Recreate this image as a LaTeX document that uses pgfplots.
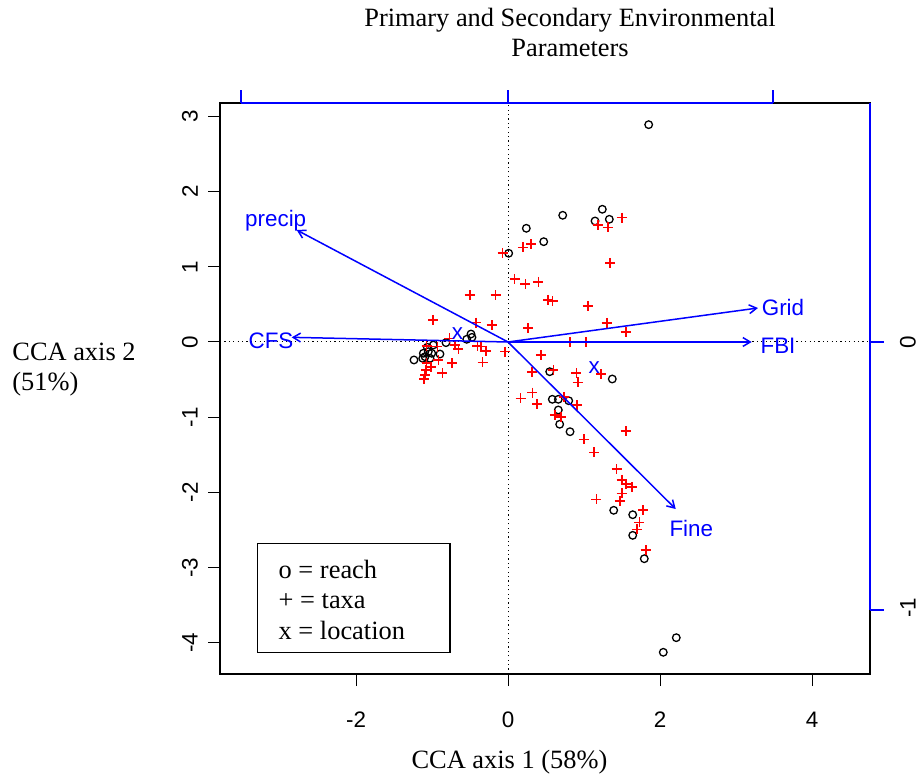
\documentclass[border=0pt]{standalone}
\usepackage{fontspec}
\setmainfont{Liberation Serif}
\setsansfont{Liberation Sans}
\usepackage{pgfplots}
\usepackage{pgfplotstable}
\pgfplotsset{compat=1.18}
\usetikzlibrary{arrows.meta}
\newcommand{\serifsz}{\fontsize{13.2}{15.8}\selectfont\rmfamily}
\newcommand{\sanssz}{\fontsize{11.2}{13.4}\selectfont\sffamily}

\pgfplotstableread{
x y
1.851 2.890
1.241 1.765
0.720 1.685
1.145 1.609
1.333 1.632
0.241 1.512
0.470 1.334
0.009 1.180
-1.237 -0.239
-1.114 -0.150
-1.092 -0.195
-1.049 -0.129
-1.004 -0.150
-0.983 -0.040
-1.026 -0.217
-0.895 -0.160
-1.062 -0.070
-1.122 -0.217
-0.816 -0.009
-0.543 0.036
-0.487 0.106
-0.474 0.062
0.549 -0.395
1.372 -0.492
0.583 -0.762
0.662 -0.762
0.799 -0.781
0.662 -0.904
0.680 -1.094
0.816 -1.193
1.391 -2.238
1.641 -2.297
1.641 -2.571
1.793 -2.882
2.214 -3.932
2.043 -4.126
}\reach

\pgfplotstableread{
x y
1.496 1.653
1.188 1.552
1.312 1.525
0.197 1.259
0.303 1.303
-0.070 1.180
1.342 1.051
0.088 0.838
0.228 0.771
0.399 0.798
0.530 0.559
0.588 0.545
1.049 0.479
0.267 0.186
1.299 0.253
1.549 0.129
0.816 -0.004
1.026 -0.004
-0.504 0.621
-0.162 0.621
-0.983 0.293
-0.421 0.257
-0.214 0.226
-0.772 0.049
-0.697 -0.040
-0.654 -0.097
-1.070 -0.283
-1.079 -0.372
-1.092 -0.439
-1.105 -0.496
-0.917 -0.239
-0.864 -0.416
-0.733 -0.283
-0.404 -0.053
-0.355 -0.062
-0.289 -0.116
-0.333 -0.270
-0.039 -0.129
0.434 -0.173
0.316 -0.395
0.596 -0.372
0.899 -0.416
0.917 -0.536
1.224 -0.426
0.320 -0.674
0.167 -0.749
0.382 -0.824
0.737 -0.735
0.904 -0.838
0.618 -0.971
0.697 -1.001
1.549 -1.184
0.996 -1.294
1.132 -1.467
1.430 -1.689
1.496 -1.835
1.553 -1.888
1.628 -1.928
1.496 -2.012
1.470 -2.118
1.162 -2.092
1.780 -2.238
1.728 -2.398
1.697 -2.491
1.812 -2.766
-1.070 -0.050
-0.930 -0.060
-1.010 -0.330
}\taxa

\pgfplotstableread{
x y
-0.664 0.106
1.136 -0.343
}\location

\begin{document}
\begin{tikzpicture}
\begin{axis}[
  x=38pt, y=37.6pt,
  xmin=-3.789, xmax=4.763, ymin=-4.415, ymax=3.178,
  axis line style={black, line width=0.6pt},
  xtick={-2,0,2,4}, xticklabels={-2,0,2,4},
  ytick={-4,-3,-2,-1,0,1,2,3}, yticklabels={-4,-3,-2,-1,0,1,2,3},
  xtick pos=left, ytick pos=left,
  tick align=outside, major tick length=6pt,
  tick style={black, line width=0.5pt},
  ticklabel style={font=\sanssz, inner sep=0pt},
  xticklabel style={anchor=center, yshift=-17pt},
  yticklabel style={xshift=-9pt, rotate=90, anchor=center},
  clip mode=individual,
]
\addplot[black, line width=0.5pt, dash pattern=on 0.6pt off 1.6pt] coordinates {(-3.789,0) (4.763,0)};
\addplot[black, line width=0.5pt, dash pattern=on 0.6pt off 1.6pt] coordinates {(0,-4.415) (0,3.178)};

\addplot[only marks, black, mark=o, mark size=1.9pt, mark options={solid, line width=0.65pt}] table {\reach};
\addplot[only marks, red, mark=+, mark size=2.5pt, mark options={solid, line width=0.8pt}] table {\taxa};

\pgfplotsset{arr/.style={blue, line width=0.75pt, -{Straight Barb[length=3.7pt, width=4.4pt]}}}
\addplot[arr] coordinates {(0,0) (-2.780,1.489)};
\addplot[arr] coordinates {(0,0) (-2.846,0.062)};
\addplot[arr] coordinates {(0,0) (3.289,0.452)};
\addplot[arr] coordinates {(0,0) (3.207,0)};
\addplot[arr] coordinates {(0,0) (2.207,-2.221)};

\addplot[only marks, blue, mark=text, text mark={x}, text mark as node=true,
  text mark style={font=\sanssz, text=blue, inner sep=0pt, anchor=center}] table {\location};

\coordinate (bbtl) at (axis cs:-6.6842,4.5479);
\coordinate (bbbr) at (axis cs:5.4474,-5.8112);
\end{axis}
\begin{scope}[shift={(bbtl)}, x=0.5pt, y=-0.5pt]
  % secondary blue axes
  \draw[blue, line width=0.75pt] (241,103) -- (773,103);
  \draw[blue, line width=0.6pt] (241,103) -- (241,90) (508,103) -- (508,90) (773,103) -- (773,90);
  \draw[blue, line width=0.75pt] (870,103) -- (870,610);
  \draw[blue, line width=0.6pt] (870,342) -- (884,342) (870,610) -- (884,610);
  \node[font=\sanssz, rotate=90, inner sep=0pt] at (908,342) {0};
  \node[font=\sanssz, rotate=90, inner sep=0pt] at (908,608) {-1};
  % arrow labels
  \node[font=\sanssz, text=blue, inner sep=0pt] at (275.7,220.4) {precip};
  \node[font=\sanssz, text=blue, inner sep=0pt] at (271,341) {CFS};
  \node[font=\sanssz, text=blue, inner sep=0pt] at (783,307.2) {Grid};
  \node[font=\sanssz, text=blue, inner sep=0pt] at (778,345.7) {FBI};
  \node[font=\sanssz, text=blue, inner sep=0pt] at (691.3,528.3) {Fine};
  % titles
  \node[font=\serifsz, anchor=base, inner sep=0pt] at (570,27) {Primary and Secondary Environmental};
  \node[font=\serifsz, anchor=base, inner sep=0pt] at (570,57) {Parameters};
  \node[font=\serifsz, anchor=base, inner sep=0pt] at (509.5,769) {CCA axis 1 (58\%)};
  \node[font=\serifsz, anchor=base west, inner sep=0pt] at (12,361) {CCA axis 2};
  \node[font=\serifsz, anchor=base west, inner sep=0pt] at (12,391) {(51\%)};
  % legend box
  \draw[black, line width=0.75pt] (257.7,543.3) rectangle (450,652.7);
  \node[font=\serifsz, anchor=base west, inner sep=0pt] at (278.3,578.3) {o = reach};
  \node[font=\serifsz, anchor=base west, inner sep=0pt] at (278.3,608.3) {+ = taxa};
  \node[font=\serifsz, anchor=base west, inner sep=0pt] at (278.3,639.3) {x = location};
\end{scope}
\pgfresetboundingbox
\useasboundingbox (bbtl) rectangle (bbbr);
\end{tikzpicture}
\end{document}
